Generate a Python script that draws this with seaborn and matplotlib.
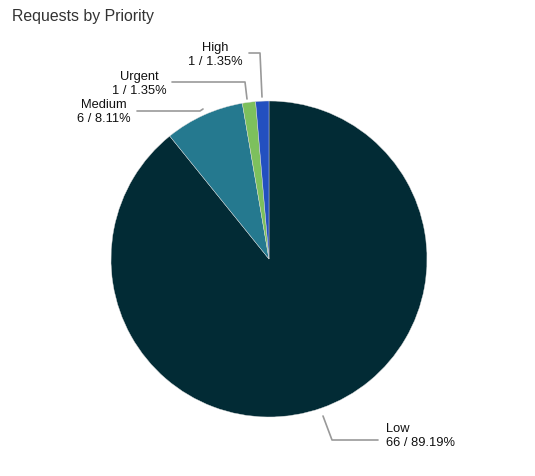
import matplotlib
matplotlib.use('Agg')
import matplotlib.pyplot as plt
import seaborn as sns

# Data
priorities = ['Low', 'Medium', 'Urgent', 'High']
counts = [66, 6, 1, 1]
percents = ['89.19%', '8.11%', '1.35%', '1.35%']
colors = ['#022b35', '#25798f', '#7dc05d', '#2350c0']

sns.set_theme(style='white')
plt.rcParams['font.family'] = ['Liberation Sans', 'DejaVu Sans']

W, H = 535, 477
CX, CY, R = 269, 260, 158

fig = plt.figure(figsize=(W / 100, H / 100), dpi=100)
fig.patch.set_facecolor('white')
ax = fig.add_axes([(CX - R) / W, (H - CY - R) / H, 2 * R / W, 2 * R / H])

ax.pie(counts, colors=colors, startangle=90, counterclock=False,
       wedgeprops=dict(linewidth=0.3, edgecolor='#dddddd'))
ax.set_xlim(-1, 1)
ax.set_ylim(-1, 1)
ax.set_aspect('equal')
ax.axis('off')


def px(x, y):
    # pixel position -> pie data coords
    return ((x - CX) / R, (CY - y) / R)


# leader lines (pixel paths) and label anchors
leaders = {
    'Low': [(323, 417), (332, 441), (378, 441)],
    'Medium': [(203, 110), (200, 112), (137, 112)],
    'Urgent': [(247, 100), (245, 83), (172, 83)],
    'High': [(262, 98), (260, 54), (249, 54)],
}
label_pos = {
    'Low': (386, 436, 'left'),
    'Medium': (104, 112, 'center'),
    'Urgent': (139, 84, 'center'),
    'High': (215, 55, 'center'),
}

for name, n, pct in zip(priorities, counts, percents):
    pts = [px(*p) for p in leaders[name]]
    ax.plot([p[0] for p in pts], [p[1] for p in pts], color='#999999',
            linewidth=1.2, clip_on=False)
    lx, ly, ha = label_pos[name]
    tx, ty = px(lx, ly)
    ax.text(tx, ty, f'{name}\n{n} / {pct}', ha=ha, va='center',
            fontsize=9.3, color='#111111', linespacing=1.3, clip_on=False)

fig.text(12 / W, 1 - 16 / H, 'Requests by Priority', ha='left', va='center',
         fontsize=11.4, color='#333333')

fig.savefig('out.png', dpi=100)
